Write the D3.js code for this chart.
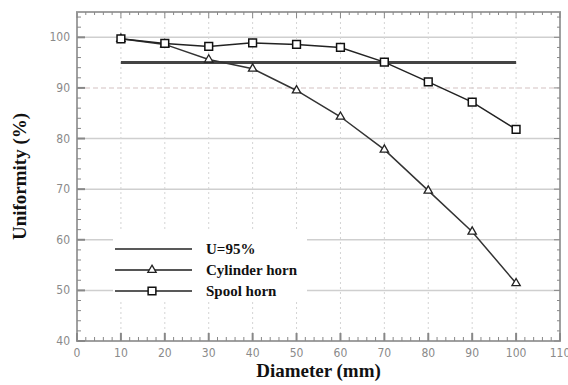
<!DOCTYPE html>
<html lang="en">
<head>
<meta charset="UTF-8">
<title>Uniformity vs Diameter</title>
<script src="https://d3js.org/d3.v7.min.js"></script>
<style>
  body { margin: 0; background: #fff; }
  .tick-label { font-family: "Liberation Sans Narrow", "DejaVu Sans Condensed", sans-serif; font-size: 12px; fill: #8a8a8a; }
  .title { font-family: "Liberation Serif", "DejaVu Serif", serif; font-weight: bold; font-size: 19px; fill: #111; }
  .legend-text { font-family: "Liberation Serif", "DejaVu Serif", serif; font-weight: bold; font-size: 15px; fill: #111; }
</style>
</head>
<body>
<svg width="568" height="385"></svg>
<script>
// data
const diameters = [10, 20, 30, 40, 50, 60, 70, 80, 90, 100];
const cylinderHorn = [99.7, 98.6, 95.6, 93.8, 89.5, 84.3, 77.8, 69.7, 61.6, 51.4];
const spoolHorn = [99.7, 98.8, 98.2, 98.9, 98.6, 98.0, 95.1, 91.2, 87.2, 81.8];
const threshold = 95;
const xTicks = [0, 10, 20, 30, 40, 50, 60, 70, 80, 90, 100, 110];
const yTicks = [40, 50, 60, 70, 80, 90, 100];
const legendLabels = ["U=95%", "Cylinder horn", "Spool horn"];

const svg = d3.select("svg");
const margin = { top: 12, right: 8, bottom: 44, left: 77 };
const width = 568, height = 385;

const x = d3.scaleLinear().domain([0, 110]).range([margin.left, width - margin.right]);
const y = d3.scaleLinear().domain([40, 105]).range([height - margin.bottom, margin.top]);

const x0 = x(0), x1 = x(110), y0 = y(40), y1 = y(105);

// grid
const grid = svg.append("g");
grid.selectAll(".hg").data(yTicks.filter(d => d > 40)).enter().append("line")
  .attr("x1", x0).attr("x2", x1)
  .attr("y1", d => y(d)).attr("y2", d => y(d))
  .attr("stroke", d => d === 90 ? "#e2d6d6" : "#cfcfcf")
  .attr("stroke-width", 1.5)
  .attr("stroke-dasharray", d => d === 90 ? "5,3" : null);
grid.selectAll(".vg").data(xTicks.filter(d => d > 0 && d < 110)).enter().append("line")
  .attr("x1", d => x(d)).attr("x2", d => x(d))
  .attr("y1", y1).attr("y2", y0)
  .attr("stroke", "#d4d4d4")
  .attr("stroke-width", 1)
  .attr("stroke-dasharray", "2,3");

// frame
svg.append("rect")
  .attr("x", x0).attr("y", y1)
  .attr("width", x1 - x0).attr("height", y0 - y1)
  .attr("fill", "none").attr("stroke", "#a0a0a0").attr("stroke-width", 2);

// inward ticks on all four sides
const xMinor = d3.range(0, 111, 2);
const yMinor = d3.range(40, 105.1, 2);
const ticks = svg.append("g").attr("stroke", "#888");
ticks.selectAll(".xb").data(xMinor).enter().append("line")
  .attr("x1", d => x(d)).attr("x2", d => x(d))
  .attr("y1", y0).attr("y2", d => y0 - (d % 10 === 0 ? 8 : 4))
  .attr("stroke-width", d => d % 10 === 0 ? 2 : 1);
ticks.selectAll(".xt").data(xMinor).enter().append("line")
  .attr("x1", d => x(d)).attr("x2", d => x(d))
  .attr("y1", y1).attr("y2", d => y1 + (d % 10 === 0 ? 6 : 3));
ticks.selectAll(".yl").data(yMinor).enter().append("line")
  .attr("y1", d => y(d)).attr("y2", d => y(d))
  .attr("x1", x0).attr("x2", d => x0 + (d % 10 === 0 ? 8 : 4))
  .attr("stroke-width", d => d % 10 === 0 ? 2 : 1);
ticks.selectAll(".yr").data(yMinor).enter().append("line")
  .attr("y1", d => y(d)).attr("y2", d => y(d))
  .attr("x1", x1).attr("x2", d => x1 - (d % 10 === 0 ? 6 : 3));

// tick labels
svg.selectAll(".xl").data(xTicks).enter().append("text")
  .attr("class", "tick-label")
  .attr("x", d => x(d)).attr("y", y0 + 16)
  .attr("text-anchor", "middle").text(d => d);
svg.selectAll(".yl2").data(yTicks).enter().append("text")
  .attr("class", "tick-label")
  .attr("x", x0 - 7).attr("y", d => y(d) + 4)
  .attr("text-anchor", "end").text(d => d);

// axis titles
svg.append("text").attr("class", "title")
  .attr("x", (x0 + x1) / 2).attr("y", 377)
  .attr("text-anchor", "middle").text("Diameter (mm)");
svg.append("text").attr("class", "title")
  .attr("transform", `translate(26,${(y0 + y1) / 2}) rotate(-90)`)
  .attr("text-anchor", "middle").text("Uniformity (%)");

// threshold line
svg.append("line")
  .attr("x1", x(diameters[0])).attr("x2", x(diameters[diameters.length - 1]))
  .attr("y1", y(threshold)).attr("y2", y(threshold))
  .attr("stroke", "#444").attr("stroke-width", 3);

const line = d3.line().x(d => x(d[0])).y(d => y(d[1]));
const cylData = diameters.map((d, i) => [d, cylinderHorn[i]]);
const spoolData = diameters.map((d, i) => [d, spoolHorn[i]]);

const tri = d3.symbol().type(d3.symbolTriangle).size(30);
const sq = d3.symbol().type(d3.symbolSquare).size(60);

svg.append("path").datum(cylData).attr("d", line)
  .attr("fill", "none").attr("stroke", "#333").attr("stroke-width", 1.5);
svg.selectAll(".tri").data(cylData).enter().append("path")
  .attr("d", tri).attr("transform", d => `translate(${x(d[0])},${y(d[1])})`)
  .attr("fill", "#fff").attr("stroke", "#222").attr("stroke-width", 1.3);

svg.append("path").datum(spoolData).attr("d", line)
  .attr("fill", "none").attr("stroke", "#222").attr("stroke-width", 1.5);
svg.selectAll(".sq").data(spoolData).enter().append("path")
  .attr("d", sq).attr("transform", d => `translate(${x(d[0])},${y(d[1])})`)
  .attr("fill", "#fff").attr("stroke", "#111").attr("stroke-width", 1.5);

// legend
const lg = svg.append("g");
lg.append("rect").attr("x", 113).attr("y", 232).attr("width", 194).attr("height", 70).attr("fill", "#fff");
const ly = [249, 270, 291];
legendLabels.forEach((lab, i) => {
  lg.append("line").attr("x1", 115).attr("x2", 192).attr("y1", ly[i]).attr("y2", ly[i])
    .attr("stroke", i === 1 ? "#555" : "#222").attr("stroke-width", i === 1 ? 2 : 1.5);
  if (i === 1) lg.append("path").attr("d", tri).attr("transform", `translate(152,${ly[i]})`)
    .attr("fill", "#fff").attr("stroke", "#222").attr("stroke-width", 1.3);
  if (i === 2) lg.append("path").attr("d", sq).attr("transform", `translate(152,${ly[i]})`)
    .attr("fill", "#fff").attr("stroke", "#111").attr("stroke-width", 1.5);
  lg.append("text").attr("class", "legend-text").attr("x", 206).attr("y", ly[i] + 5).text(lab);
});
</script>
</body>
</html>
